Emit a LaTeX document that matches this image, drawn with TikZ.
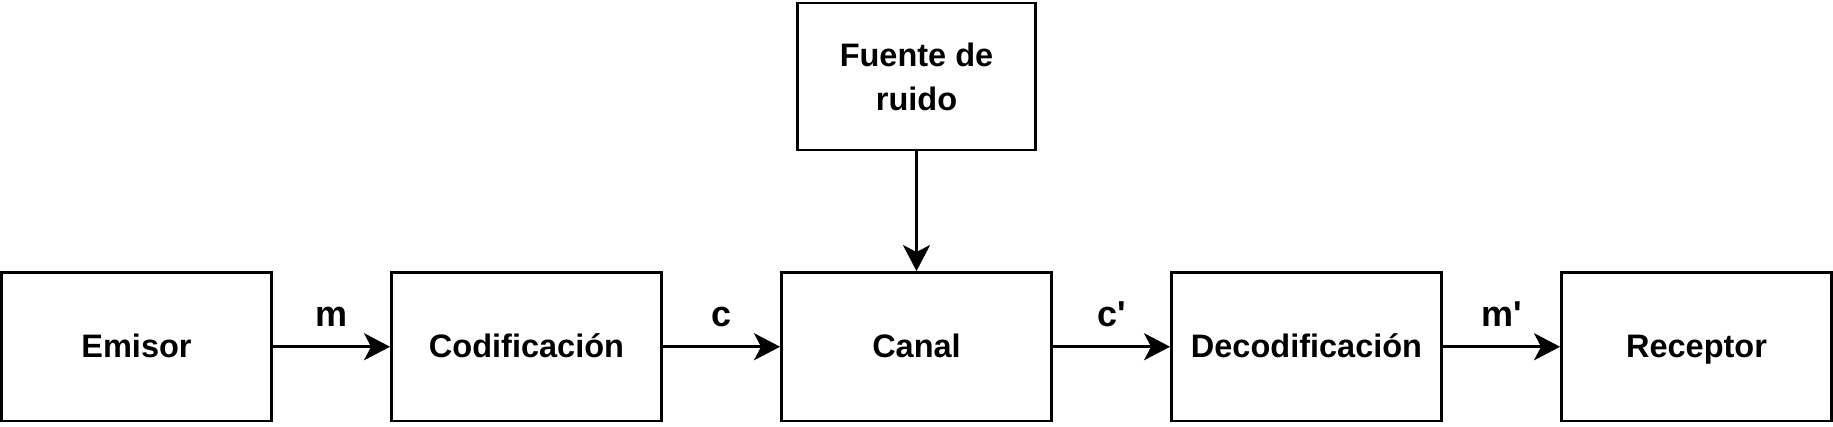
\documentclass[tikz,border=0pt]{standalone}
\usepackage{fontspec}
\setmainfont{Liberation Sans}
\usetikzlibrary{arrows.meta}
\tikzset{
  box/.style={draw=black, line width=2.9pt, rectangle, inner sep=0pt,
    minimum width=270pt, minimum height=148.5pt, align=center,
    text height=27.3pt, text depth=6.7pt,
    font=\fontsize{32.5}{44}\selectfont\bfseries},
  arr/.style={line width=2.9pt, -{Stealth[length=26pt, width=27pt, inset=7pt]}},
  lbl/.style={anchor=base, yshift=20.5pt, inner sep=0pt,
    font=\fontsize{36}{44}\selectfont\bfseries}
}
\begin{document}
\begin{tikzpicture}[x=1pt,y=1pt]
\useasboundingbox (0,0) rectangle (1833,426);
\node[box] (em) at (136.5,79.25) {Emisor};
\node[box] (cod) at (526.5,79.25) {Codificación};
\node[box] (can) at (916.5,79.25) {Canal};
\node[box] (dec) at (1306.5,79.25) {Decodificación};
\node[box] (rec) at (1696.5,79.25) {Receptor};
\node[box, text height=, text depth=, minimum width=238pt, minimum height=147pt] (fue) at (916.5,349.5) {Fuente de\\ruido};
\draw[arr] (em.east) -- node[lbl] {m} (cod.west);
\draw[arr] (cod.east) -- node[lbl] {c} (can.west);
\draw[arr] (can.east) -- node[lbl] {c\textquotesingle} (dec.west);
\draw[arr] (dec.east) -- node[lbl] {m\textquotesingle} (rec.west);
\draw[arr] (fue.south) -- (can.north);
\end{tikzpicture}
\end{document}
